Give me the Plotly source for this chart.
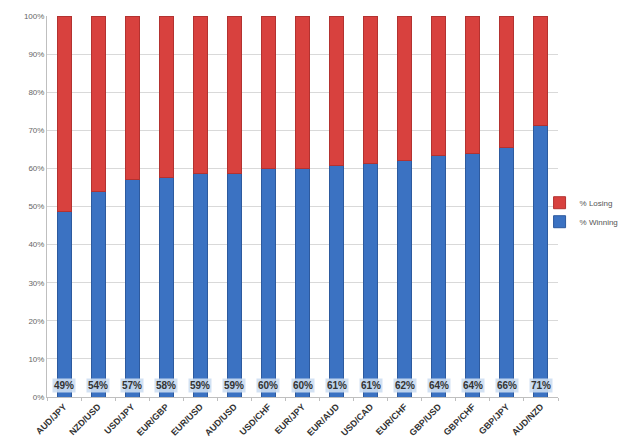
import plotly.graph_objects as go

# currency pairs and share of winning trades (%)
pairs = ["AUD/JPY", "NZD/USD", "USD/JPY", "EUR/GBP", "EUR/USD", "AUD/USD", "USD/CHF",
         "EUR/JPY", "EUR/AUD", "USD/CAD", "EUR/CHF", "GBP/USD", "GBP/CHF", "GBP/JPY", "AUD/NZD"]
winning = [48.7, 53.9, 57.1, 57.7, 58.7, 58.7, 60.0, 60.1, 60.8, 61.3, 62.0, 63.5, 63.8, 65.6, 71.2]
losing = [100 - w for w in winning]
win_labels = ["49%", "54%", "57%", "58%", "59%", "59%", "60%", "60%", "61%", "61%",
              "62%", "64%", "64%", "66%", "71%"]

fig = go.Figure()
fig.add_bar(x=pairs, y=winning, name="% Winning",
            marker=dict(color="#3b72c2", line=dict(color="#2d5a9e", width=1)))
fig.add_bar(x=pairs, y=losing, name="% Losing",
            marker=dict(color="#d8413e", line=dict(color="#b33230", width=1)))

# value labels near the bottom of each bar
for p, lab in zip(pairs, win_labels):
    fig.add_annotation(x=p, y=3, text="<b>" + lab + "</b>", showarrow=False,
                       font=dict(size=10, color="#333333", family="Liberation Sans"),
                       bgcolor="rgba(205,222,242,0.9)", borderpad=1)

# page body adds an 8px margin, so the figure is a bit smaller than the window
fig.update_layout(
    barmode="stack",
    bargap=0.59,
    width=611, height=432,
    margin=dict(l=39, r=61, t=8, b=43, autoexpand=False),
    plot_bgcolor="white", paper_bgcolor="white",
    font=dict(family="Liberation Sans", color="#555555"),
    showlegend=True,
    legend=dict(traceorder="reversed", xref="container", x=0.87, xanchor="left",
                y=0.485, yanchor="middle", bgcolor="rgba(0,0,0,0)", tracegroupgap=4,
                font=dict(size=8, color="#555555"), itemwidth=30),
)
fig.update_yaxes(range=[0, 100], dtick=10, ticksuffix="%", gridcolor="#d9d9d9",
                 showline=True, linecolor="#bfbfbf", tickfont=dict(size=8, color="#666666"),
                 zeroline=False)
fig.update_xaxes(tickangle=-45, tickfont=dict(size=9, color="#333333", family="Liberation Sans"),
                 showline=True, linecolor="#bfbfbf", ticks="outside", tickson="boundaries",
                 ticklen=3, tickcolor="#bfbfbf")
fig.update_xaxes(ticktext=["<b>" + p + "</b>" for p in pairs], tickvals=pairs)

fig.write_html("out.html")
